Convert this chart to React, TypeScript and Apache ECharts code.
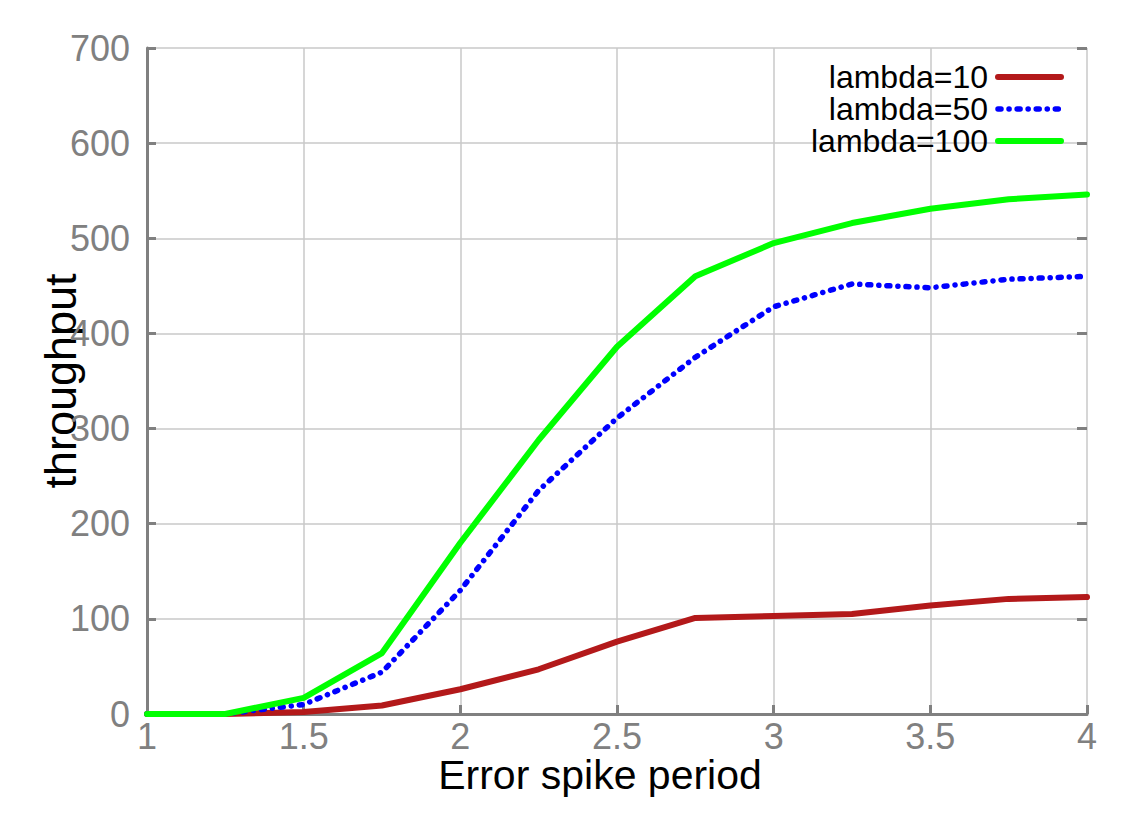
import React, { useEffect, useRef } from "react";
import * as echarts from "echarts";

// Error spike period (x) and measured throughput for each lambda setting
const periods = [1, 1.25, 1.5, 1.75, 2, 2.25, 2.5, 2.75, 3, 3.25, 3.5, 3.75, 4];
const lambda10 = [0, 0, 2, 9, 26, 47, 76, 101, 103, 105, 114, 121, 123];
const lambda50 = [0, 0, 10, 44, 130, 235, 311, 375, 428, 452, 448, 457, 460];
const lambda100 = [0, 0, 17, 64, 180, 288, 386, 460, 495, 516, 531, 541, 546];

const seriesNames = ["lambda=10", "lambda=50", "lambda=100"];
const xTicks = { min: 1, max: 4, step: 0.5 };
const yTicks = { min: 0, max: 700, step: 100 };

const FONT = "'Liberation Sans', Arial, Helvetica, sans-serif";
const AXIS_GRAY = "#808080";
const GRID_GRAY = "#c8c8c8";

const RED = "#b3191a";
const BLUE = "#0000ff";
const GREEN = "#00ff00";

const redLine = { color: RED, width: 6, cap: "round", join: "round" };
const blueLine = { color: BLUE, width: 5.5, type: [3, 8, 0.1, 8], cap: "round", join: "round" };
const greenLine = { color: GREEN, width: 6, cap: "round", join: "round" };

const pairs = (ys: number[]) => periods.map((x, i) => [x, ys[i]]);

export default function App() {
  const ref = useRef<HTMLDivElement>(null);

  useEffect(() => {
    if (!ref.current) return;
    const chart = echarts.init(ref.current, undefined, { renderer: "svg" });
    const hiddenSymbol = { opacity: 0, borderWidth: 0 };
    chart.setOption({
      animation: false,
      backgroundColor: "#ffffff",
      textStyle: { fontFamily: FONT },
      grid: { left: 147, right: 59, top: 48, bottom: 116, containLabel: false },
      legend: {
        orient: "vertical",
        align: "right",
        right: 77,
        top: 56,
        itemWidth: 63,
        itemHeight: 14,
        itemGap: 0,
        data: [
          { name: seriesNames[0], itemStyle: hiddenSymbol, lineStyle: redLine },
          { name: seriesNames[1], itemStyle: hiddenSymbol, lineStyle: blueLine },
          { name: seriesNames[2], itemStyle: hiddenSymbol, lineStyle: greenLine },
        ],
        textStyle: {
          fontFamily: FONT,
          fontSize: 32,
          color: "#000000",
          lineHeight: 30,
          padding: [0, 5, 0, 0],
        },
      },
      xAxis: {
        type: "value",
        min: xTicks.min,
        max: xTicks.max,
        interval: xTicks.step,
        name: "Error spike period",
        nameLocation: "middle",
        nameGap: 40,
        nameMoveOverlap: false,
        nameTextStyle: {
          fontFamily: FONT,
          fontSize: 41,
          color: "#000000",
          padding: [0, 34, 0, 0],
        },
        axisLine: { show: true, onZero: false, lineStyle: { color: AXIS_GRAY, width: 3 } },
        axisTick: { show: true, inside: true, length: 9, lineStyle: { color: AXIS_GRAY, width: 3 } },
        axisLabel: { fontFamily: FONT, fontSize: 36, color: AXIS_GRAY, margin: 4 },
        splitLine: { show: true, lineStyle: { color: GRID_GRAY, width: 1.5 } },
      },
      yAxis: [
        {
          type: "value",
          min: yTicks.min,
          max: yTicks.max,
          interval: yTicks.step,
          name: "throughput",
          nameLocation: "middle",
          nameGap: 64,
          nameMoveOverlap: false,
          nameTextStyle: { fontFamily: FONT, fontSize: 45, color: "#000000" },
          axisLine: { show: true, lineStyle: { color: AXIS_GRAY, width: 3 } },
          axisTick: { show: true, inside: true, length: 9, lineStyle: { color: AXIS_GRAY, width: 3 } },
          axisLabel: { fontFamily: FONT, fontSize: 36, color: AXIS_GRAY, margin: 17 },
          splitLine: { show: true, lineStyle: { color: GRID_GRAY, width: 1.5 } },
        },
        {
          type: "value",
          position: "right",
          min: yTicks.min,
          max: yTicks.max,
          interval: yTicks.step,
          axisLine: { show: false },
          axisTick: { show: true, inside: true, length: 10, lineStyle: { color: AXIS_GRAY, width: 3 } },
          axisLabel: { show: false },
          splitLine: { show: false },
        },
      ],
      graphic: [
        {
          // tick labels are cut off just above the axis title
          type: "rect",
          z: 100,
          shape: { x: 100, y: 749, width: 1046, height: 8 },
          style: { fill: "#ffffff" },
        },
      ],
      series: [
        {
          name: seriesNames[0],
          type: "line",
          data: pairs(lambda10),
          symbol: "none",
          color: RED,
          lineStyle: redLine,
          z: 2,
        },
        {
          name: seriesNames[1],
          type: "line",
          data: pairs(lambda50),
          symbol: "none",
          color: BLUE,
          lineStyle: blueLine,
          z: 3,
        },
        {
          name: seriesNames[2],
          type: "line",
          data: pairs(lambda100),
          symbol: "none",
          color: GREEN,
          lineStyle: greenLine,
          z: 4,
        },
      ],
    });
    return () => chart.dispose();
  }, []);

  return (
    <div
      ref={ref}
      style={{ position: "fixed", left: 0, top: 0, width: 1146, height: 830, background: "#ffffff" }}
    />
  );
}
